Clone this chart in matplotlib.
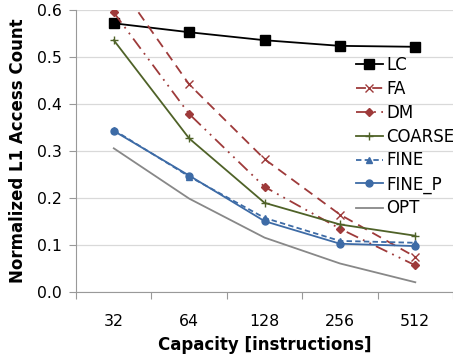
import matplotlib
matplotlib.use("Agg")
from matplotlib import pyplot as plt
from matplotlib.ticker import FixedLocator

capacity = ["32", "64", "128", "256", "512"]
lc = [0.572, 0.553, 0.536, 0.524, 0.522]
fa = [0.67, 0.442, 0.283, 0.165, 0.075]
dm = [0.595, 0.379, 0.224, 0.135, 0.057]
coarse = [0.536, 0.327, 0.19, 0.144, 0.12]
fine = [0.345, 0.246, 0.158, 0.109, 0.105]
fine_p = [0.343, 0.248, 0.151, 0.103, 0.098]
opt = [0.306, 0.199, 0.116, 0.061, 0.021]

plt.rcParams["font.family"] = ["DejaVu Sans"]

fig = plt.figure(figsize=(4.53, 3.62), dpi=100)
ax = fig.add_axes([0.168, 0.193, 0.832, 0.779])

x = list(range(len(capacity)))
red = "#9E3A3A"
green = "#4F6228"
blue = "#3D6BA6"

ax.plot(x, lc, color="black", marker="s", markersize=6.5, lw=1.3, label="LC")
ax.plot(x, fa, color=red, marker="x", markersize=6, lw=1.3, dashes=(5.5, 3.5), label="FA")
ax.plot(x, dm, color=red, marker="D", markersize=4, lw=1.3,
        dashes=(7, 3, 1, 3, 1, 3), label="DM")
ax.plot(x, coarse, color=green, marker="+", markersize=6, lw=1.3, label="COARSE")
ax.plot(x, fine, color=blue, marker="^", markersize=4.5, lw=1.3, dashes=(3, 1.8), label="FINE")
ax.plot(x, fine_p, color=blue, marker="o", markersize=5, lw=1.3, label="FINE_P")
ax.plot(x, opt, color="#888888", lw=1.3, label="OPT")

ax.set_xlim(-0.5, len(capacity) - 0.5)
ax.set_ylim(0, 0.6)
ax.set_yticks([0.0, 0.1, 0.2, 0.3, 0.4, 0.5, 0.6])
ax.set_yticklabels(["0.0", "0.1", "0.2", "0.3", "0.4", "0.5", "0.6"])

# category labels centred, tick marks between categories
ax.xaxis.set_major_locator(FixedLocator([i - 0.5 for i in range(len(capacity) + 1)]))
ax.xaxis.set_major_formatter(plt.NullFormatter())
ax.xaxis.set_minor_locator(FixedLocator(x))
ax.set_xticklabels(capacity, minor=True)
ax.tick_params(axis="x", which="major", length=5, color="#999999")
ax.tick_params(axis="x", which="minor", length=0, pad=16, labelsize=11.3)
ax.tick_params(axis="y", length=5, color="#999999", labelsize=11.3, pad=5)

ax.grid(axis="y", color="#d9d9d9", lw=0.9)
ax.set_axisbelow(True)
for s in ["top", "right"]:
    ax.spines[s].set_visible(False)
for s in ["left", "bottom"]:
    ax.spines[s].set_color("#999999")

ax.set_xlabel("Capacity [instructions]", fontweight="bold", fontsize=12, labelpad=5)
ax.set_ylabel("Normalized L1 Access Count", fontweight="bold", fontsize=12, labelpad=7)

ax.legend(loc="upper left", bbox_to_anchor=(0.743, 0.837), frameon=False, fontsize=12,
          handlelength=1.6, handletextpad=0.2, labelspacing=0.35, borderaxespad=0,
          borderpad=0)

fig.savefig("out.png", dpi=100)
